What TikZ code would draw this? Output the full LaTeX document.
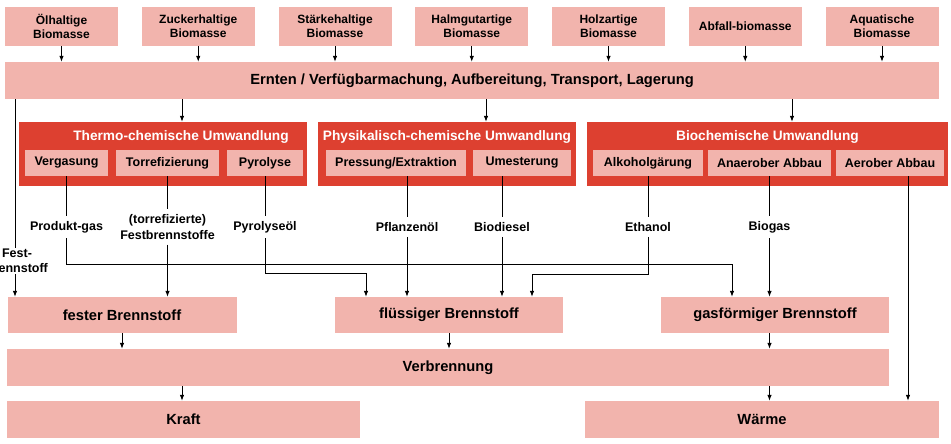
\documentclass[tikz,border=0pt]{standalone}
\usepackage{fontspec}
\setmainfont{Liberation Sans}
\usetikzlibrary{arrows.meta,calc}
\definecolor{pinkc}{RGB}{242,180,173}
\definecolor{redc}{RGB}{221,64,48}
\begin{document}
\begin{tikzpicture}[x=1pt,y=-1pt,
  lb/.style={fill=pinkc,inner sep=0pt,align=center,text=black,font=\bfseries\fontsize{12}{14.3}\selectfont},
  big/.style={lb,font=\bfseries\fontsize{14.7}{16}\selectfont},
  topbox/.style={lb,minimum width=113pt,minimum height=39pt},
  subbox/.style={lb,minimum height=26pt,font=\bfseries\fontsize{12.5}{14}\selectfont},
  botbox/.style={big,minimum width=228pt,minimum height=36pt},
  grp/.style={fill=redc,inner sep=0pt,minimum height=64pt},
  ttl/.style={text=white,inner sep=0pt,font=\bfseries\fontsize{13.7}{15}\selectfont},
  lbl/.style={align=center,inner xsep=1pt,inner ysep=5pt,font=\bfseries\fontsize{12.5}{15.5}\selectfont},
  arr/.style={-{Latex[length=6pt,width=4.5pt]},line width=0.8pt},
  ln/.style={line width=0.8pt}]
\useasboundingbox (0,0) rectangle (951,444);

% top row
\node[topbox] (b1) at (61.5,26.5) {Ölhaltige\\Biomasse};
\node[topbox] (b2) at (198.25,26.5) {Zuckerhaltige\\Biomasse};
\node[topbox] (b3) at (335,26.5) {Stärkehaltige\\Biomasse};
\node[topbox] (b4) at (471.75,26.5) {Halmgutartige\\Biomasse};
\node[topbox] (b5) at (608.5,26.5) {Holzartige\\Biomasse};
\node[topbox] (b6) at (745.25,26.5) {Abfall-biomasse};
\node[topbox] (b7) at (882,26.5) {Aquatische\\Biomasse};

\node[big,minimum width=934pt,minimum height=37pt] (ern) at (472,80.5) {Ernten / Verfügbarmachung, Aufbereitung, Transport, Lagerung};

\foreach \b in {b1,b2,b3,b4,b5,b6,b7}
  \draw[arr] (\b.south) -- (\b.south |- ern.north);

% groups
\node[grp,minimum width=288pt] (thermo) at (163,154) {};
\node[ttl] (thermot) at (181,137) {Thermo-chemische Umwandlung};
\node[grp,minimum width=258pt] (phys) at (447,154) {};
\node[ttl] (physt) at (447,137) {Physikalisch-chemische Umwandlung};
\node[grp,minimum width=361pt] (bio) at (767.5,154) {};
\node[ttl] (biot) at (767.5,137) {Biochemische Umwandlung};

\coordinate (xt) at (182,0);
\coordinate (xp) at (486,0);
\coordinate (xb) at (792,0);
\draw[arr] (xt |- ern.south) -- (xt |- thermo.north);
\draw[arr] (xp |- ern.south) -- (xp |- phys.north);
\draw[arr] (xb |- ern.south) -- (xb |- bio.north);

% sub boxes
\node[subbox,minimum width=83pt] (verg) at (66.5,163) {Vergasung};
\node[subbox,minimum width=103pt] (torr) at (167.5,163) {Torrefizierung};
\node[subbox,minimum width=76pt] (pyro) at (265,163) {Pyrolyse};
\node[subbox,minimum width=140pt] (pres) at (396,163) {Pressung/Extraktion};
\node[subbox,minimum width=98pt] (umes) at (522,163) {Umesterung};
\node[subbox,minimum width=110pt] (alko) at (648,163) {Alkoholgärung};
\node[subbox,minimum width=123pt] (anae) at (769.5,163) {Anaerober Abbau};
\node[subbox,minimum width=108pt] (aero) at (890,163) {Aerober Abbau};

% bottom boxes
\node[botbox,minimum width=229pt] (fest) at (122,315) {fester Brennstoff};
\node[botbox] (fl) at (449,315) {flüssiger Brennstoff};
\node[botbox] (gas) at (775,315) {gasförmiger Brennstoff};
\node[big,minimum width=882pt,minimum height=37pt] (verb) at (448,367.5) {Verbrennung};
\node[big,minimum width=353pt,minimum height=37pt] (kraft) at (183.5,419.5) {Kraft};
\node[big,minimum width=354pt,minimum height=37pt] (waerme) at (762,419.5) {Wärme};

% labels
\node[lbl] (lprod) at (66.5,227) {Produkt-gas};
\node[lbl] (ltor) at (167.5,227) {(torrefizierte)\\Festbrennstoffe};
\node[lbl] (lpyr) at (265,227) {Pyrolyseöl};
\node[lbl] (lpfl) at (407,227) {Pflanzenöl};
\node[lbl] (lbdi) at (502,227) {Biodiesel};
\node[lbl] (leth) at (648,227) {Ethanol};
\node[lbl] (lbig) at (769.5,227) {Biogas};
\node[lbl,inner ysep=1pt] (lfest) at (17,261) {Fest-\\brennstoff};

% Fest-brennstoff direct line
\coordinate (xf) at (15,0);
\draw[ln] (xf |- ern.south) -- (xf |- lfest.north);
\draw[arr] (xf |- lfest.south) -- (xf |- fest.north);

% Vergasung -> gas
\coordinate (rg) at (732,264);
\draw[ln] (verg.south) -- (lprod.north);
\draw[arr] (lprod.south) |- (rg) -- (rg |- gas.north);

% Torrefizierung -> fest
\draw[ln] (torr.south) -- (ltor.north);
\draw[arr] (ltor.south) -- (ltor.south |- fest.north);

% Pyrolyse -> fl
\coordinate (rp) at (366,273);
\draw[ln] (pyro.south) -- (lpyr.north);
\draw[arr] (lpyr.south) |- (rp) -- (rp |- fl.north);

% Pressung -> fl
\draw[ln] (lpfl.north |- pres.south) -- (lpfl.north);
\draw[arr] (lpfl.south) -- (lpfl.south |- fl.north);

% Umesterung -> fl
\draw[ln] (lbdi.north |- umes.south) -- (lbdi.north);
\draw[arr] (lbdi.south) -- (lbdi.south |- fl.north);

% Alkohol -> fl
\coordinate (ra) at (532,274);
\draw[ln] (alko.south) -- (leth.north);
\draw[arr] (leth.south) |- (ra) -- (ra |- fl.north);

% Anaerober -> gas
\draw[ln] (anae.south) -- (lbig.north);
\draw[arr] (lbig.south) -- (lbig.south |- gas.north);

% Aerober -> Waerme
\coordinate (xa) at (908,0);
\draw[arr] (xa |- aero.south) -- (xa |- waerme.north);

% to Verbrennung
\coordinate (xg) at (769.5,0);
\draw[arr] (fest.south) -- (fest.south |- verb.north);
\draw[arr] (fl.south) -- (fl.south |- verb.north);
\draw[arr] (xg |- gas.south) -- (xg |- verb.north);
\coordinate (xk) at (182,0);
\draw[arr] (xk |- verb.south) -- (xk |- kraft.north);
\draw[arr] (xg |- verb.south) -- (xg |- waerme.north);
\end{tikzpicture}
\end{document}
